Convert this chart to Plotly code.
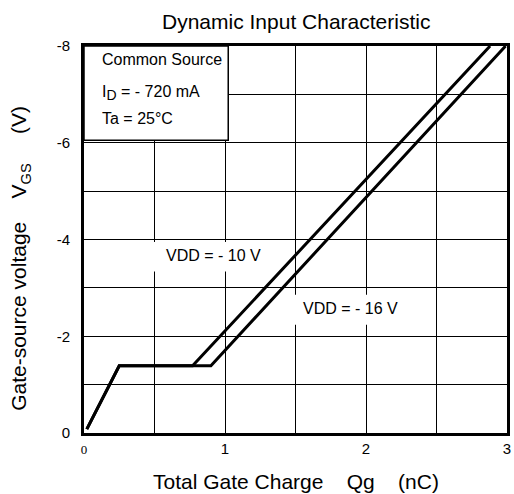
import plotly.graph_objects as go

# Data
qg_vdd10 = [0.02, 0.25, 0.77, 2.88]
vgs_vdd10 = [-0.08, -1.39, -1.39, -8.0]
qg_vdd16 = [0.02, 0.25, 0.90, 2.99]
vgs_vdd16 = [-0.08, -1.39, -1.39, -8.0]

x_ticks = [0, 1, 2, 3]
x_tick_text = ["<span style='font-family:Liberation Serif;font-size:13px'>0</span>", "1", "2", "3"]
y_ticks = [0, -2, -4, -6, -8]
y_tick_text = ["0", "-2", "-4", "-6", "-8"]

FONT = "Liberation Sans, Arial, sans-serif"
NB = "\u00a0"

fig = go.Figure()
for xs, ys in [(qg_vdd10, vgs_vdd10), (qg_vdd16, vgs_vdd16)]:
    fig.add_trace(go.Scatter(x=xs, y=ys, mode="lines",
                             line=dict(color="black", width=3),
                             showlegend=False, hoverinfo="skip"))

fig.update_layout(
    width=514, height=494,
    margin=dict(l=84, r=4, t=46, b=61),
    paper_bgcolor="white", plot_bgcolor="white",
    font=dict(family=FONT, color="black", size=16),
    showlegend=False,
)
fig.update_xaxes(
    range=[0, 3], tickvals=x_ticks, ticktext=x_tick_text,
    showgrid=True, gridcolor="black", gridwidth=1,
    minor=dict(dtick=0.5, showgrid=True, gridcolor="black", gridwidth=1),
    showline=True, linecolor="black", linewidth=3, mirror=True,
    ticks="", zeroline=False, tickfont=dict(size=15),
)
fig.update_yaxes(
    range=[0, -8], tickvals=y_ticks, ticktext=y_tick_text,
    showgrid=True, gridcolor="black", gridwidth=1,
    minor=dict(dtick=1, showgrid=True, gridcolor="black", gridwidth=1),
    showline=True, linecolor="black", linewidth=3, mirror=True,
    ticks="", zeroline=False, tickfont=dict(size=15), ticklabelstandoff=8,
)

# info box
fig.add_shape(type="rect", xref="x", yref="y", x0=0.0, x1=1.023, y0=-6.05, y1=-8,
              line=dict(color="black", width=1.5), fillcolor="white", layer="above")
# white backgrounds behind curve labels (cover gridlines)
fig.add_shape(type="rect", xref="x", yref="y", x0=0.45, x1=1.26, y0=-3.95, y1=-3.34,
              line=dict(width=0), fillcolor="white", layer="between")
fig.add_shape(type="rect", xref="x", yref="y", x0=1.47, x1=2.26, y0=-2.86, y1=-2.24,
              line=dict(width=0), fillcolor="white", layer="between")

annos = [
    dict(text="Dynamic Input Characteristic", xref="paper", yref="paper",
         x=0.5, y=1, yshift=25, xanchor="center", yanchor="middle",
         showarrow=False, font=dict(size=21)),
    dict(text=f"Total Gate Charge{NB*4}Qg{NB*4}(nC)", xref="paper", yref="paper",
         x=0.5, y=0, yshift=-48, xanchor="center", yanchor="middle",
         showarrow=False, font=dict(size=21)),
    dict(text=f"Gate-source voltage{NB*4}V<sub>GS</sub>{NB*5}(V)", xref="paper", yref="paper",
         x=0, y=0.45, xshift=-64, xanchor="center", yanchor="middle",
         textangle=-90, showarrow=False, font=dict(size=21)),
    dict(text="Common Source", x=0.113, y=-7.73, xanchor="left", showarrow=False),
    dict(text="I<sub><span style='font-size:14px'>D</span></sub> = - 720 mA",
         x=0.113, y=-7.02, xanchor="left", showarrow=False),
    dict(text="Ta = 25°C", x=0.113, y=-6.51, xanchor="left", showarrow=False),
    dict(text="VDD = - 10 V", x=0.57, y=-3.67, xanchor="left", showarrow=False),
    dict(text="VDD = - 16 V", x=1.54, y=-2.58, xanchor="left", showarrow=False),
]
for a in annos:
    fig.add_annotation(**a)

fig.write_html("out.html")
